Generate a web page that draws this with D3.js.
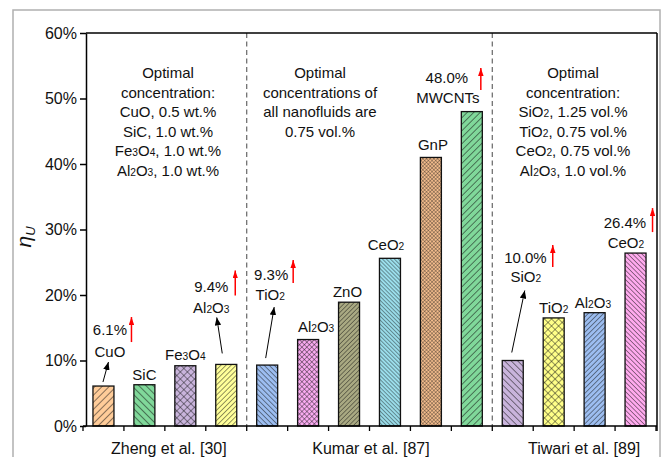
<!DOCTYPE html>
<html><head><meta charset="utf-8">
<script src="https://cdn.jsdelivr.net/npm/d3@7"></script>
<style>body{margin:0;background:#fff}svg{display:block}text{font-family:"Liberation Sans",Arial,sans-serif;fill:#111}</style>
</head><body><svg id="c" width="665" height="457"></svg>
<script>
// ---- data ----
const groups = ["Zheng et al. [30]", "Kumar et al. [87]", "Tiwari et al. [89]"];
const groupSizes = [4, 6, 4];
const names = ["CuO","SiC","Fe3O4","Al2O3","TiO2","Al2O3","ZnO","CeO2","GnP","MWCNTs","SiO2","TiO2","Al2O3","CeO2"];
const values = [6.1, 6.3, 9.2, 9.4, 9.3, 13.2, 18.9, 25.6, 41.0, 48.0, 10.0, 16.5, 17.3, 26.4];
const percentLabels = ["6.1%", null, null, "9.4%", "9.3%", null, null, null, null, "48.0%", "10.0%", null, null, "26.4%"];
const yTicks = [0, 10, 20, 30, 40, 50, 60];
const notes = [
  ["Optimal", "concentration:", "CuO, 0.5 wt.%", "SiC, 1.0 wt.%", "Fe3O4, 1.0 wt.%", "Al2O3, 1.0 wt.%"],
  ["Optimal", "concentrations of", "all nanofluids are", "0.75 vol.%"],
  ["Optimal", "concentration:", "SiO2, 1.25 vol.%", "TiO2, 0.75 vol.%", "CeO2, 0.75 vol.%", "Al2O3, 1.0 vol.%"]
];
// ---- styles ----
const fills = ["#FFCC99","#80D89A","#C9B4DC","#FFFF99","#9CBDF0","#F9AAF0","#A9A982","#9ADDEA","#F3BC8C","#80D89A","#C9B4DC","#FFFF88","#9CBDF0","#FFAAEE"];
const hatch = ["/","\\","x","/","\\","x","/","\\","x","/","\\","x","/","\\"];
const hatchGap = [5,5,5,3.6,3.6,3.5,3.2,2.8,2.6,4.6,4.6,5,3.6,3.3];
const hatchW = [1,1,0.9,0.9,0.9,0.8,0.85,0.8,0.6,1,1,0.9,0.9,0.9];
// label layout relative to (bar centre, bar top)
const nameOff = [[6.5,-29],[0,-4.7],[0,-5.7],[-15,-51],[3,-65],[8,-8],[-1.5,-5],[-4,-8],[2,-7],[-24,-8.6],[13,-78.5],[0,-5],[-1.7,-4.7],[-9.6,-5]];
const pctOff = {0:[6.5,-51,28,-44,-69],3:[-15,-72,9,-69,-94],4:[4,-85,26,-82,-105],9:[-25,-28.6,9,-21.6,-43.6],10:[12.7,-97.5,40,-93.5,-115.5],13:[-10.6,-25,17,-21,-45]};
const arrowOff = {0:[-0.5,-4,5,-24],3:[-4,-11,-9.5,-47],4:[-1.5,-7,7,-58],10:[-1,-8,12,-70]};

const svg = d3.select("#c");
const defs = svg.append("defs");
const L = 86, T = 33, R = 657, B = 426;
const x = d3.scaleBand().domain(d3.range(names.length)).range([83, 656]).paddingInner(0.487).paddingOuter(0.2435);
const step = x.step();
const y = d3.scaleLinear().domain([0, 60]).range([B, T]);

// outer frame
svg.append("rect").attr("x",13).attr("y",10).attr("width",647).attr("height",460).attr("fill","none").attr("stroke","#b0b0b0").attr("stroke-width",1.5);

// patterns
names.forEach((n,i)=>{
  const g = hatchGap[i];
  const p = defs.append("pattern").attr("id","p"+i).attr("patternUnits","userSpaceOnUse")
    .attr("width",g).attr("height",g)
    .attr("patternTransform", hatch[i]==="\\" ? "rotate(-45)" : "rotate(45)");
  p.append("rect").attr("width",g).attr("height",g).attr("fill",fills[i]);
  p.append("line").attr("x1",0).attr("y1",0).attr("x2",0).attr("y2",g).attr("stroke","#111").attr("stroke-width",hatchW[i]);
  if (hatch[i]==="x") p.append("line").attr("x1",0).attr("y1",0).attr("x2",g).attr("y2",0).attr("stroke","#111").attr("stroke-width",hatchW[i]);
});
const mk = (id,color,w,h)=>{
  defs.append("marker").attr("id",id).attr("viewBox",`0 0 ${w} ${h}`).attr("refX",w).attr("refY",h/2)
    .attr("markerUnits","userSpaceOnUse").attr("markerWidth",w).attr("markerHeight",h).attr("orient","auto")
    .append("path").attr("d",`M0,0L${w},${h/2}L0,${h}Z`).attr("fill",color);
};
mk("ar","#ff0000",8,5.5); mk("ab","#000",8,6.5);

// separators
let cum = 0;
const bounds = [];
groupSizes.forEach((s,gi)=>{ bounds.push([cum, cum+s]); cum += s; });
bounds.slice(0,-1).forEach(b=>{
  svg.append("line").attr("x1",83+b[1]*step).attr("x2",83+b[1]*step).attr("y1",T).attr("y2",B)
    .attr("stroke","#666").attr("stroke-width",1.2).attr("stroke-dasharray","5,3.5");
});

// bars
svg.append("g").selectAll("rect").data(values).join("rect")
  .attr("x",(d,i)=>x(i)).attr("width",x.bandwidth())
  .attr("y",d=>y(d)).attr("height",d=>B-y(d))
  .attr("fill",(d,i)=>`url(#p${i})`).attr("stroke","#111").attr("stroke-width",1.3);

// chemical text helper
function chem(sel, str, size){
  const parts = str.split(/(?<=[A-Za-z])(\d)/);
  parts.forEach((p,k)=>{
    if (p==="") return;
    const sub = k%2===1;
    sel.append("tspan").text(p).attr("font-size", sub ? size*0.68 : size);
  });
}
const FS = 15;
// name labels
names.forEach((n,i)=>{
  const cx = x(i)+x.bandwidth()/2, top = y(values[i]);
  const t = svg.append("text").attr("x",cx+nameOff[i][0]).attr("y",top+nameOff[i][1]).attr("text-anchor","middle");
  chem(t, n, FS);
});
// percentage labels + red arrows
percentLabels.forEach((pl,i)=>{
  if (!pl) return;
  const cx = x(i)+x.bandwidth()/2, top = y(values[i]);
  const o = pctOff[i];
  svg.append("text").attr("x",cx+o[0]).attr("y",top+o[1]).attr("text-anchor","middle").attr("font-size",FS).text(pl);
  svg.append("line").attr("x1",cx+o[2]).attr("x2",cx+o[2]).attr("y1",top+o[3]).attr("y2",top+o[4])
    .attr("stroke","#ff0000").attr("stroke-width",1.5).attr("marker-end","url(#ar)");
});
// black arrows
Object.keys(arrowOff).forEach(k=>{
  const i = +k, o = arrowOff[k];
  const cx = x(i)+x.bandwidth()/2, top = y(values[i]);
  svg.append("line").attr("x1",cx+o[0]).attr("y1",top+o[1]).attr("x2",cx+o[2]).attr("y2",top+o[3])
    .attr("stroke","#000").attr("stroke-width",1).attr("marker-end","url(#ab)");
});

// group notes
const noteCx = [168, 320, 573];
notes.forEach((lines,gi)=>{
  lines.forEach((ln,li)=>{
    const t = svg.append("text").attr("x",noteCx[gi]).attr("y",78+li*19.6).attr("text-anchor","middle");
    chem(t, ln, FS);
  });
});

// axes
const ya = svg.append("g").attr("transform",`translate(${L},0)`)
  .call(d3.axisLeft(y).tickValues(yTicks).tickFormat(d=>d+"%").tickSize(6).tickSizeOuter(0));
ya.select(".domain").attr("stroke","#000").attr("stroke-width",1.5);
ya.selectAll(".tick line").attr("stroke","#000").attr("stroke-width",1.5);
ya.selectAll(".tick text").attr("font-size",16).attr("font-family","Liberation Sans, Arial, sans-serif").attr("fill","#111").attr("x",-9);

// x axis line and ticks at category boundaries
svg.append("line").attr("x1",83).attr("x2",R).attr("y1",B).attr("y2",B).attr("stroke","#000").attr("stroke-width",1.5);
svg.append("g").selectAll("line").data(d3.range(names.length+1)).join("line")
  .attr("x1",d=>83+d*step).attr("x2",d=>83+d*step).attr("y1",B).attr("y2",B+5).attr("stroke","#000").attr("stroke-width",1.3);
// top and right frame
svg.append("line").attr("x1",L).attr("x2",R).attr("y1",T).attr("y2",T).attr("stroke","#000").attr("stroke-width",1.5);
svg.append("line").attr("x1",R).attr("x2",R).attr("y1",T).attr("y2",B+5).attr("stroke","#000").attr("stroke-width",1.5);

// group labels
const gOff = [4, 1.5, 10];
bounds.forEach((b,gi)=>{
  svg.append("text").attr("x",83+(b[0]+b[1])/2*step+gOff[gi]).attr("y",454).attr("text-anchor","middle").attr("font-size",16).text(groups[gi]);
});

// y label
const yl = svg.append("text").attr("transform","translate(31,237) rotate(-90)").attr("text-anchor","middle").attr("font-size",21).attr("font-style","italic");
yl.append("tspan").text("η");
yl.append("tspan").text("U").attr("font-size",13).attr("dy",4);
</script></body></html>
